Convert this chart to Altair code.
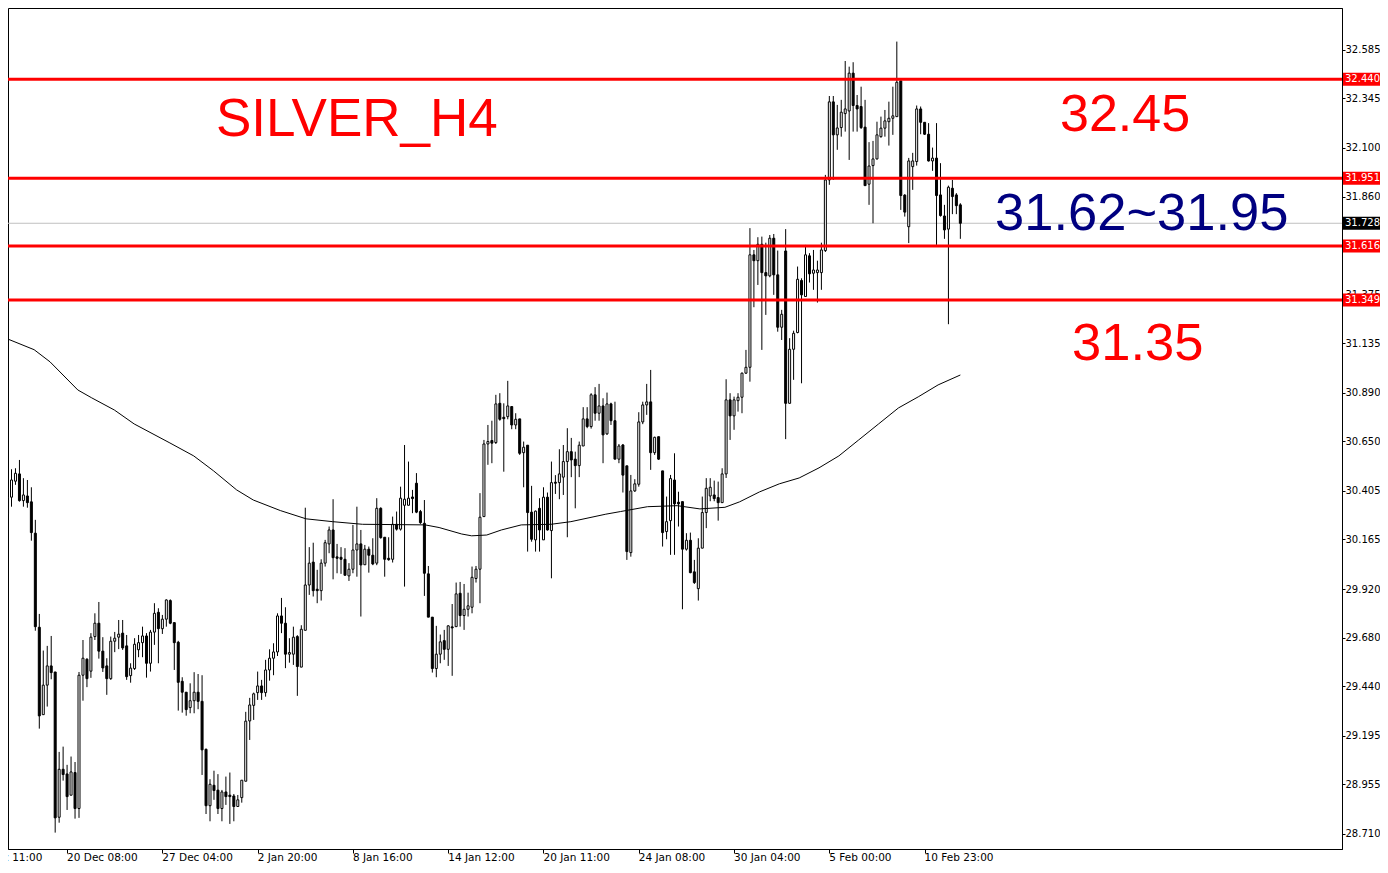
import altair as alt
import pandas as pd

# ---------------- data (H4 candles, oldest first) ----------------
opens = [30.291,30.374,30.453,30.489,30.357,30.380,30.351,30.196,29.731,29.299,
         29.445,29.540,29.510,28.792,29.029,29.006,28.901,29.013,28.835,29.494,
         29.573,29.514,29.685,29.751,29.613,29.540,29.477,29.662,29.682,29.702,
         29.639,29.492,29.527,29.620,29.655,29.688,29.553,29.707,29.805,29.724,
         29.771,29.863,29.754,29.657,29.464,29.410,29.334,29.368,29.410,29.365,
         29.128,28.849,28.950,28.926,28.835,28.917,28.901,28.897,28.845,28.889,
         28.970,29.268,29.345,29.408,29.441,29.408,29.520,29.578,29.609,29.787,
         29.751,29.598,29.598,29.685,29.534,29.716,29.940,30.053,29.919,29.912,
         30.048,30.143,30.212,30.079,30.077,30.067,29.985,30.018,30.113,30.143,
         30.040,30.117,30.087,30.048,30.319,30.176,30.072,30.067,30.240,30.216,
         30.334,30.334,30.375,30.443,30.303,30.245,29.995,29.781,29.527,29.598,
         29.665,29.622,29.733,29.734,29.899,29.789,29.820,29.830,29.972,30.018,
         30.278,30.637,30.654,30.644,30.838,30.769,30.772,30.822,30.731,30.761,
         30.594,30.631,30.300,30.163,30.319,30.163,30.374,30.209,30.448,30.446,
         30.473,30.550,30.599,30.562,30.530,30.627,30.761,30.723,30.880,30.789,
         30.825,30.687,30.835,30.752,30.562,30.632,30.529,30.100,30.405,30.438,
         30.746,30.830,30.845,30.594,30.673,30.504,30.204,30.258,30.459,30.349,
         30.352,30.117,30.161,30.005,29.922,30.122,30.298,30.380,30.385,30.372,
         30.347,30.489,30.855,30.776,30.851,30.868,30.987,31.016,31.572,31.543,
         31.624,31.484,31.468,31.654,31.473,31.214,31.591,30.838,31.105,31.188,
         31.445,31.366,31.567,31.481,31.484,31.484,31.593,31.942,32.328,32.165,
         32.201,32.270,32.283,32.470,32.310,32.305,32.203,31.921,32.013,32.046,
         32.156,32.198,32.230,32.247,32.255,32.432,31.867,31.711,32.008,32.033,
         32.293,32.227,32.168,32.036,32.050,31.868,31.764,31.699,31.901,31.868,
         31.819]
highs = [30.413,30.512,30.517,30.558,30.468,30.459,30.423,30.262,29.797,29.616,
         29.639,29.688,29.510,29.115,29.141,29.051,29.092,29.065,29.510,29.668,
         29.578,29.702,29.800,29.856,29.682,29.578,29.685,29.708,29.767,29.767,
         29.693,29.553,29.677,29.693,29.734,29.702,29.718,29.850,29.825,29.792,
         29.869,29.869,29.754,29.664,29.484,29.410,29.454,29.509,29.500,29.494,
         29.131,28.980,29.022,29.005,28.927,28.993,29.013,28.907,28.902,28.975,
         29.313,29.382,29.408,29.512,29.471,29.570,29.622,29.652,29.800,29.876,
         29.830,29.677,29.734,29.692,29.741,30.322,30.127,30.149,30.015,30.067,
         30.163,30.229,30.364,30.143,30.127,30.122,30.048,30.237,30.327,30.212,
         30.138,30.130,30.171,30.369,30.324,30.176,30.176,30.278,30.303,30.426,
         30.632,30.550,30.410,30.493,30.311,30.360,30.034,29.781,29.738,29.695,
         29.718,29.741,29.846,29.952,29.955,29.945,29.902,30.031,30.034,30.394,
         30.657,30.731,30.752,30.880,30.888,30.838,30.949,30.822,30.789,30.761,
         30.649,30.631,30.430,30.308,30.369,30.423,30.397,30.550,30.483,30.611,
         30.632,30.715,30.667,30.599,30.649,30.819,30.819,30.888,30.918,30.934,
         30.863,30.891,30.841,30.846,30.637,30.637,30.529,30.484,30.463,30.794,
         30.846,30.934,31.003,30.673,30.673,30.504,30.377,30.484,30.591,30.401,
         30.352,30.196,30.199,30.064,30.171,30.377,30.468,30.468,30.456,30.451,
         30.517,30.957,30.888,30.871,30.888,30.990,31.102,31.704,31.596,31.659,
         31.662,31.632,31.670,31.675,31.593,31.300,31.699,31.160,31.197,31.514,
         31.456,31.621,31.580,31.596,31.543,31.632,31.967,32.357,32.357,32.313,
         32.338,32.530,32.502,32.524,32.362,32.403,32.338,32.129,32.135,32.230,
         32.255,32.288,32.329,32.403,32.626,32.432,31.872,32.051,32.076,32.310,
         32.305,32.227,32.223,32.102,32.223,32.025,31.819,31.914,31.942,31.877,
         31.827]
lows = [30.130,30.327,30.435,30.352,30.327,30.322,30.159,29.714,29.230,29.299,
        29.339,29.474,28.716,28.765,28.973,28.828,28.901,28.785,28.789,29.368,
        29.435,29.481,29.668,29.576,29.510,29.397,29.471,29.608,29.623,29.619,
        29.471,29.457,29.520,29.583,29.583,29.482,29.512,29.644,29.553,29.698,
        29.734,29.746,29.520,29.319,29.309,29.294,29.306,29.306,29.326,29.001,
        28.808,28.772,28.878,28.808,28.772,28.853,28.759,28.772,28.845,28.864,
        28.970,29.174,29.273,29.372,29.372,29.388,29.467,29.494,29.589,29.702,
        29.529,29.556,29.545,29.392,29.534,29.716,29.891,29.883,29.850,29.863,
        30.031,30.097,29.968,29.998,29.995,29.988,29.960,29.998,29.981,29.784,
        30.039,30.001,30.038,30.038,30.169,29.981,30.060,30.051,30.209,30.209,
        29.932,30.334,30.295,30.295,30.242,29.886,29.781,29.507,29.484,29.553,
        29.570,29.540,29.491,29.734,29.734,29.718,29.784,29.800,29.952,29.850,
        30.278,30.534,30.542,30.637,30.752,30.500,30.759,30.710,30.710,30.583,
        30.423,30.105,30.154,30.105,30.105,30.163,30.209,29.973,30.390,30.364,
        30.385,30.176,30.473,30.319,30.473,30.627,30.715,30.713,30.752,30.752,
        30.542,30.682,30.731,30.562,30.542,30.397,30.064,30.080,30.400,30.426,
        30.735,30.781,30.509,30.583,30.558,30.130,30.166,30.089,30.089,30.229,
        29.820,30.110,29.998,29.945,29.863,30.122,30.221,30.354,30.354,30.258,
        30.347,30.469,30.657,30.707,30.797,30.789,30.983,30.945,31.313,31.423,
        31.102,31.275,31.461,31.374,31.192,31.151,30.661,30.838,30.954,31.184,
        30.937,31.366,31.435,31.399,31.336,31.399,31.586,31.918,31.942,32.091,
        32.156,32.181,32.041,32.181,32.181,32.194,31.914,31.819,31.728,32.043,
        32.151,32.156,32.112,32.165,32.255,31.794,31.761,31.630,31.893,32.013,
        32.168,32.165,32.033,31.987,31.621,31.761,31.651,31.229,31.773,31.773,
        31.651]
closes = [30.374,30.459,30.492,30.357,30.385,30.347,30.199,29.734,29.293,29.445,
          29.540,29.507,28.789,29.029,29.003,28.894,29.016,28.835,29.494,29.578,
          29.477,29.682,29.751,29.613,29.530,29.477,29.662,29.677,29.697,29.629,
          29.487,29.529,29.647,29.655,29.688,29.553,29.707,29.800,29.724,29.771,
          29.866,29.751,29.655,29.459,29.410,29.324,29.368,29.410,29.365,29.125,
          28.849,28.955,28.924,28.835,28.917,28.894,28.894,28.845,28.878,28.975,
          29.267,29.347,29.402,29.441,29.408,29.520,29.578,29.609,29.787,29.751,
          29.598,29.606,29.682,29.537,29.721,29.940,30.048,29.912,29.912,30.048,
          30.149,30.212,30.075,30.072,30.067,29.988,30.018,30.113,30.143,30.039,
          30.117,30.087,30.044,30.319,30.174,30.067,30.065,30.240,30.216,30.369,
          30.364,30.369,30.367,30.300,30.248,29.998,29.781,29.527,29.598,29.659,
          29.622,29.738,29.728,29.896,29.789,29.820,29.837,29.978,30.018,30.275,
          30.637,30.649,30.641,30.835,30.759,30.762,30.825,30.731,30.759,30.591,
          30.621,30.298,30.166,30.305,30.212,30.374,30.212,30.446,30.443,30.489,
          30.550,30.599,30.558,30.530,30.631,30.761,30.723,30.880,30.789,30.825,
          30.682,30.835,30.752,30.562,30.627,30.483,30.105,30.405,30.440,30.746,
          30.830,30.845,30.594,30.670,30.562,30.199,30.253,30.466,30.341,30.341,
          30.117,30.161,30.001,29.952,30.122,30.298,30.418,30.423,30.367,30.347,
          30.489,30.855,30.776,30.855,30.868,30.987,31.016,31.572,31.543,31.624,
          31.484,31.468,31.654,31.473,31.214,31.278,30.838,31.105,31.184,31.451,
          31.374,31.572,31.478,31.497,31.497,31.596,31.942,32.328,32.165,32.199,
          32.277,32.293,32.470,32.310,32.293,32.201,31.914,32.011,32.046,32.165,
          32.198,32.234,32.247,32.259,32.425,31.865,31.783,32.036,32.036,32.293,
          32.227,32.168,32.036,32.050,31.865,31.766,31.695,31.906,31.860,31.815,
          31.728]

# moving average line, sampled along the curve (bar index, price)
ma_idx = [-0.6, 6.7, 10.7, 17.7, 21.2, 26.9, 31.9, 40.9, 46.9, 51.9, 57.7, 61.9,
          68.7, 75.2, 81.9, 89.4, 105.2, 108.7, 114.4, 116.9, 120.7, 124.4, 129.4,
          136.9, 141.9, 150.7, 154.4, 161.2, 168.7, 174.4, 180.7, 184.4, 189.4,
          194.4, 199.4, 204.4, 209.4, 214.4, 219.4, 224.4, 229.4, 234.4, 240.0]
ma_val = [31.161, 31.103, 31.043, 30.904, 30.865, 30.805, 30.736, 30.642, 30.578,
          30.504, 30.410, 30.360, 30.308, 30.267, 30.253, 30.240, 30.237, 30.224,
          30.192, 30.183, 30.187, 30.212, 30.237, 30.240, 30.253, 30.290, 30.303,
          30.327, 30.332, 30.316, 30.324, 30.351, 30.400, 30.440, 30.469, 30.519,
          30.578, 30.657, 30.736, 30.815, 30.870, 30.929, 30.978]

levels = [32.440, 31.951, 31.616, 31.349]
bid = [31.728]

y_ticks = [32.585, 32.345, 32.100, 31.860, 31.615, 31.375, 31.135, 30.890, 30.650,
           30.405, 30.165, 29.920, 29.680, 29.440, 29.195, 28.955, 28.710]

x_tick_idx = [-9, 15, 39, 63, 87, 111, 135, 159, 183, 207, 231]
x_tick_lbl = ["16 Dec 11:00", "20 Dec 08:00", "27 Dec 04:00", "2 Jan 20:00",
              "8 Jan 16:00", "14 Jan 12:00", "20 Jan 11:00", "24 Jan 08:00",
              "30 Jan 04:00", "5 Feb 00:00", "10 Feb 23:00"]

title_text = ["SILVER_H4"]
note_hi = ["32.45"]
note_mid = ["31.62~31.95"]
note_lo = ["31.35"]

# ---------------- tables ----------------
df = pd.DataFrame({"i": list(range(len(opens))), "open": opens, "high": highs,
                   "low": lows, "close": closes})
ma_df = pd.DataFrame({"i": ma_idx, "ma": ma_val})
lvl_df = pd.DataFrame({"p": levels, "lbl": [f"{v:.3f}" for v in levels]})
bid_df = pd.DataFrame({"p": bid, "lbl": [f"{v:.3f}" for v in bid]})
xt_df = pd.DataFrame({"i": x_tick_idx, "lbl": x_tick_lbl})

W, H = 1334, 841
xs = alt.Scale(domain=[1.375, 1.375 + W / 4.0], nice=False, zero=False)
ys = alt.Scale(domain=[28.635, 32.792], nice=False, zero=False)

AX_FONT = "DejaVu Sans"

x_axis = alt.Axis(values=x_tick_idx, labels=False, orient="bottom", grid=False,
                  title=None, tickSize=4, tickColor="black", domainColor="black",
                  zindex=0)
y_axis = alt.Axis(values=y_ticks, format=".3f", orient="right", grid=False,
                  title=None, tickSize=3, tickColor="black", domainColor="black",
                  labelPadding=0, labelFont=AX_FONT, labelFontSize=10,
                  labelColor="black", labelOverlap=False, labelFlush=False, zindex=0)

base = alt.Chart(df)

wicks = base.mark_rule(color="black", strokeWidth=1).encode(
    x=alt.X("i:Q", scale=xs, axis=x_axis),
    y=alt.Y("low:Q", scale=ys, axis=y_axis),
    y2="high:Q",
)

bodies = base.mark_bar(size=2, orient="vertical", stroke="black", strokeWidth=1).encode(
    x=alt.X("i:Q", scale=xs),
    y=alt.Y("open:Q", scale=ys),
    y2="close:Q",
    fill=alt.condition("datum.close >= datum.open", alt.value("white"), alt.value("black")),
)

ma_line = alt.Chart(ma_df).mark_line(color="black", strokeWidth=1).encode(
    x=alt.X("i:Q", scale=xs), y=alt.Y("ma:Q", scale=ys))

bid_line = alt.Chart(bid_df).mark_rule(color="#C0C0C0", strokeWidth=1).encode(
    y=alt.Y("p:Q", scale=ys))

lvl_lines = alt.Chart(lvl_df).mark_rule(color="#FF0000", strokeWidth=3).encode(
    y=alt.Y("p:Q", scale=ys))

TAG_X = W + 19.5
lvl_tags = alt.Chart(lvl_df).mark_tick(orient="horizontal", size=37, thickness=13,
                                       color="#FF0000", opacity=1).encode(
    x=alt.value(TAG_X), y=alt.Y("p:Q", scale=ys))
lvl_txt = alt.Chart(lvl_df).mark_text(align="left", baseline="middle", color="white",
                                      font=AX_FONT, fontSize=10).encode(
    x=alt.value(W + 3), y=alt.Y("p:Q", scale=ys), text="lbl:N")

bid_tag = alt.Chart(bid_df).mark_tick(orient="horizontal", size=37, thickness=13,
                                      color="black", opacity=1).encode(
    x=alt.value(TAG_X), y=alt.Y("p:Q", scale=ys))
bid_txt = alt.Chart(bid_df).mark_text(align="left", baseline="middle", color="white",
                                      font=AX_FONT, fontSize=10).encode(
    x=alt.value(W + 3), y=alt.Y("p:Q", scale=ys), text="lbl:N")

x_labels = alt.Chart(xt_df).mark_text(align="left", baseline="top", dx=0, color="black",
                                      font=AX_FONT, fontSize=10.5).encode(
    x=alt.X("i:Q", scale=xs), y=alt.value(H + 4), text="lbl:N")


def note(txt, x, y, color, size=52):
    return alt.Chart(pd.DataFrame({"t": txt})).mark_text(
        align="left", baseline="alphabetic", font="Liberation Sans", fontSize=size,
        color=color).encode(text="t:N", x=alt.value(x), y=alt.value(y))


chart = alt.layer(
    bid_line, wicks, bodies, ma_line, lvl_lines, lvl_tags, lvl_txt, bid_tag, bid_txt,
    x_labels,
    note(title_text, 208, 128, "#FF0000", 53),
    note(note_hi, 1052, 123, "#FF0000"),
    note(note_mid, 987, 222, "#000080", 52.5),
    note(note_lo, 1064, 352, "#FF0000", 52.5),
).properties(
    width=W, height=H,
    autosize=alt.AutoSizeParams(type="none"),
    padding={"left": 0, "top": 0, "right": 38, "bottom": 14},
    background="white",
).configure_view(stroke="black", strokeWidth=1)

chart.save("out.html", embed_options={"renderer": "svg", "actions": False})
